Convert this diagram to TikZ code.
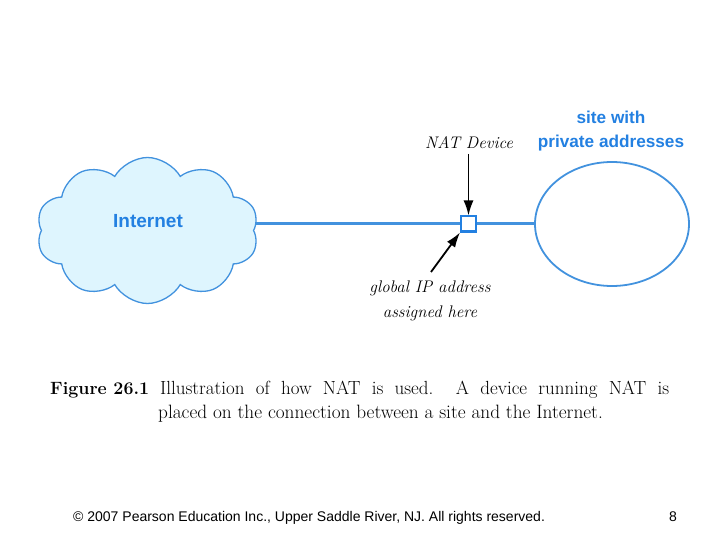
\documentclass[tikz,border=0pt]{standalone}
\usepackage{fontspec}
\setsansfont{Liberation Sans}
\usetikzlibrary{shapes.symbols,shapes.geometric,arrows.meta}
\definecolor{netblue}{RGB}{66,146,222}
\definecolor{txtblue}{RGB}{35,128,225}
\definecolor{cloudfill}{RGB}{222,245,254}
\pgfdeclarelayer{bg}
\pgfsetlayers{bg,main}
\tikzset{
  bluetext/.style={font=\sffamily\bfseries\fontsize{17.2}{19}\selectfont, text=txtblue, inner sep=0pt},
  note/.style={font=\itshape\fontsize{16.8}{18}\selectfont, inner sep=0pt},
  blackarrow/.style={line width=1.8pt, -{Latex[length=15pt,width=10pt]}},
}
\begin{document}
\begin{tikzpicture}[x=1pt,y=-1pt]
\useasboundingbox (0,0) rectangle (720,540);
% cloud
\node[cloud, cloud puffs=10, cloud puff arc=120, aspect=1.5, draw=netblue, line width=1.3pt,
      fill=cloudfill, minimum width=222pt, minimum height=146pt, inner sep=0pt] (cloud) at (147.5,230.5) {};
\node[font=\sffamily\bfseries\fontsize{19}{21}\selectfont, text=txtblue, inner sep=0pt] (inet) at (148,221) {Internet};
% NAT device
\node[rectangle, draw=txtblue, fill=white, line width=2pt, minimum width=15pt, minimum height=15pt, inner sep=0pt] (nat) at (468.5,224) {};
% site ellipse
\node[ellipse, draw=netblue, line width=1.8pt, minimum width=154pt, minimum height=124pt, inner sep=0pt] (site) at (612,224) {};
% connectors
\begin{pgfonlayer}{bg}
\draw[netblue, line width=3pt] (cloud.east |- nat) -- (nat.center);
\draw[netblue, line width=3pt] (nat.center) -- (site.west);
\end{pgfonlayer}
% labels
\node[bluetext] (site1) at (611,117) {site with};
\node[bluetext] (site2) at (611,143) {private addresses};
\node[note] (natlbl) at (469,143) {NAT Device};
\node[note] (glob) at (430,288) {global IP address};
\node[note] (assig) at (430,313) {assigned here};
\coordinate (natT) at (468.5,154);
\coordinate (globT) at (431,272);
\draw[blackarrow] (natT) -- (nat.north);
\draw[blackarrow] (globT) -- (nat.south west);
% caption
\node[anchor=base west, inner sep=0pt, font=\bfseries\fontsize{17.8}{22}\selectfont] (fig) at (50,394) {Figure 26.1};
\node[anchor=base west, inner sep=0pt, font=\fontsize{19}{22}\selectfont] (cap1) at (160,394) {\makebox[509pt][s]{Illustration of how NAT is used.\ \ A device running NAT is}};
\node[anchor=base west, inner sep=0pt, font=\fontsize{19.3}{22}\selectfont] (cap2) at (158,418) {placed on the connection between a site and the Internet.};
% footer
\node[anchor=base west, inner sep=0pt, font=\sffamily\fontsize{14}{16}\selectfont] (foot) at (73,521) {© 2007 Pearson Education Inc., Upper Saddle River, NJ. All rights reserved.};
\node[anchor=base, inner sep=0pt, font=\sffamily\fontsize{14}{16}\selectfont] (page) at (673,521) {8};
\end{tikzpicture}
\end{document}
